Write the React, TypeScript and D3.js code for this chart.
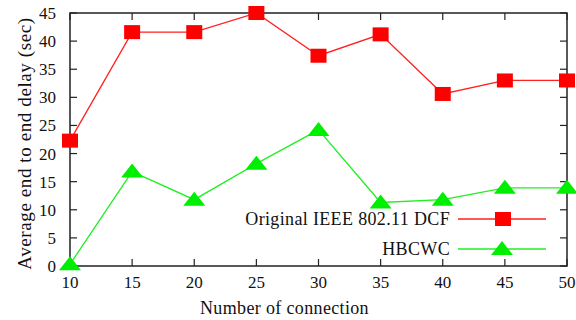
import React from "react";
import { scaleLinear, line } from "d3";

const connections = [10, 15, 20, 25, 30, 35, 40, 45, 50];
const dcfDelay = [22.3, 41.6, 41.6, 45, 37.4, 41.2, 30.6, 33.0, 33.0];
const hbcwcDelay = [0.3, 16.8, 11.8, 18.2, 24.2, 11.3, 11.8, 13.9, 13.9];
const yTicks = [0, 5, 10, 15, 20, 25, 30, 35, 40, 45];

const seriesNames = ["Original IEEE 802.11 DCF", "HBCWC"];

const width = 576;
const height = 320;
const margin = { top: 13, right: 9, bottom: 54, left: 70 };
const innerWidth = width - margin.left - margin.right;
const innerHeight = height - margin.top - margin.bottom;
const font = "'Liberation Serif'";

const red = "#ff2020";
const green = "#22ee22";

const Square = ({ x, y }: { x: number; y: number }) => (
  <rect x={x - 8} y={y - 7} width={16} height={14} fill="#ff0000" />
);
const Triangle = ({ x, y }: { x: number; y: number }) => (
  <path d={`M${x},${y - 8} L${x + 11},${y + 6} L${x - 11},${y + 6} Z`} fill="#00ee00" />
);

const App = () => {
  const xScale = scaleLinear().domain([10, 50]).range([0, innerWidth]);
  const yScale = scaleLinear().domain([0, 45]).range([innerHeight, 0]);

  const lineGen = line<number>()
    .x((d, i) => xScale(connections[i]))
    .y((d) => yScale(d));

  const tickLen = 7;
  const textStyle = { fontFamily: font, fontSize: 17, fill: "#111" };
  const labelStyle = { fontFamily: font, fontSize: 18, fill: "#111", letterSpacing: "0.35px" };
  const yLabelStyle = { fontFamily: font, fontSize: 19, fill: "#111", letterSpacing: "0.6px" };

  const legendX = 388;
  const legendY = [206, 236];

  return (
    <svg
      width={width}
      height={height}
      style={{ position: "absolute", left: 0, top: 0, background: "#fff" }}
    >
      <g transform={`translate(${margin.left}, ${margin.top})`}>
        {connections.map((c) => (
          <g key={"x" + c}>
            <line x1={xScale(c)} x2={xScale(c)} y1={innerHeight} y2={innerHeight - tickLen} stroke="#222" strokeWidth={1.2} />
            <line x1={xScale(c)} x2={xScale(c)} y1={0} y2={tickLen} stroke="#222" strokeWidth={1.2} />
            <text x={xScale(c)} y={innerHeight + 22} textAnchor="middle" style={textStyle}>
              {c}
            </text>
          </g>
        ))}
        {yTicks.map((t) => (
          <g key={"y" + t}>
            <line x1={0} x2={tickLen} y1={yScale(t)} y2={yScale(t)} stroke="#222" strokeWidth={1.2} />
            <line x1={innerWidth} x2={innerWidth - tickLen} y1={yScale(t)} y2={yScale(t)} stroke="#222" strokeWidth={1.2} />
            <text x={-14} y={yScale(t) + 6} textAnchor="end" style={textStyle}>
              {t}
            </text>
          </g>
        ))}

        <rect x={0} y={0} width={innerWidth} height={innerHeight} fill="none" stroke="#222" strokeWidth={1.5} />

        <text x={innerWidth / 2 - 34} y={innerHeight + 48} textAnchor="middle" style={labelStyle}>
          Number of connection
        </text>
        <text
          transform="rotate(-90)"
          x={-innerHeight / 2 - 4}
          y={-39}
          textAnchor="middle"
          style={yLabelStyle}
        >
          Average end to end delay (sec)
        </text>

        <path d={lineGen(dcfDelay) || ""} fill="none" stroke={red} strokeWidth={1.3} />
        {dcfDelay.map((d, i) => (
          <Square key={"s" + i} x={xScale(connections[i])} y={yScale(d)} />
        ))}

        <path d={lineGen(hbcwcDelay) || ""} fill="none" stroke={green} strokeWidth={1.3} />
        {hbcwcDelay.map((d, i) => (
          <Triangle key={"t" + i} x={xScale(connections[i])} y={yScale(d)} />
        ))}

        {seriesNames.map((name, i) => (
          <g key={name}>
            <text x={legendX - 8} y={legendY[i] + 6} textAnchor="end" style={labelStyle}>
              {name}
            </text>
            <line
              x1={legendX}
              x2={legendX + 88}
              y1={legendY[i]}
              y2={legendY[i]}
              stroke={i === 0 ? red : green}
              strokeWidth={1.3}
            />
            {i === 0 ? (
              <Square x={legendX + 45} y={legendY[i]} />
            ) : (
              <Triangle x={legendX + 44} y={legendY[i]} />
            )}
          </g>
        ))}
      </g>
    </svg>
  );
};

export default App;
